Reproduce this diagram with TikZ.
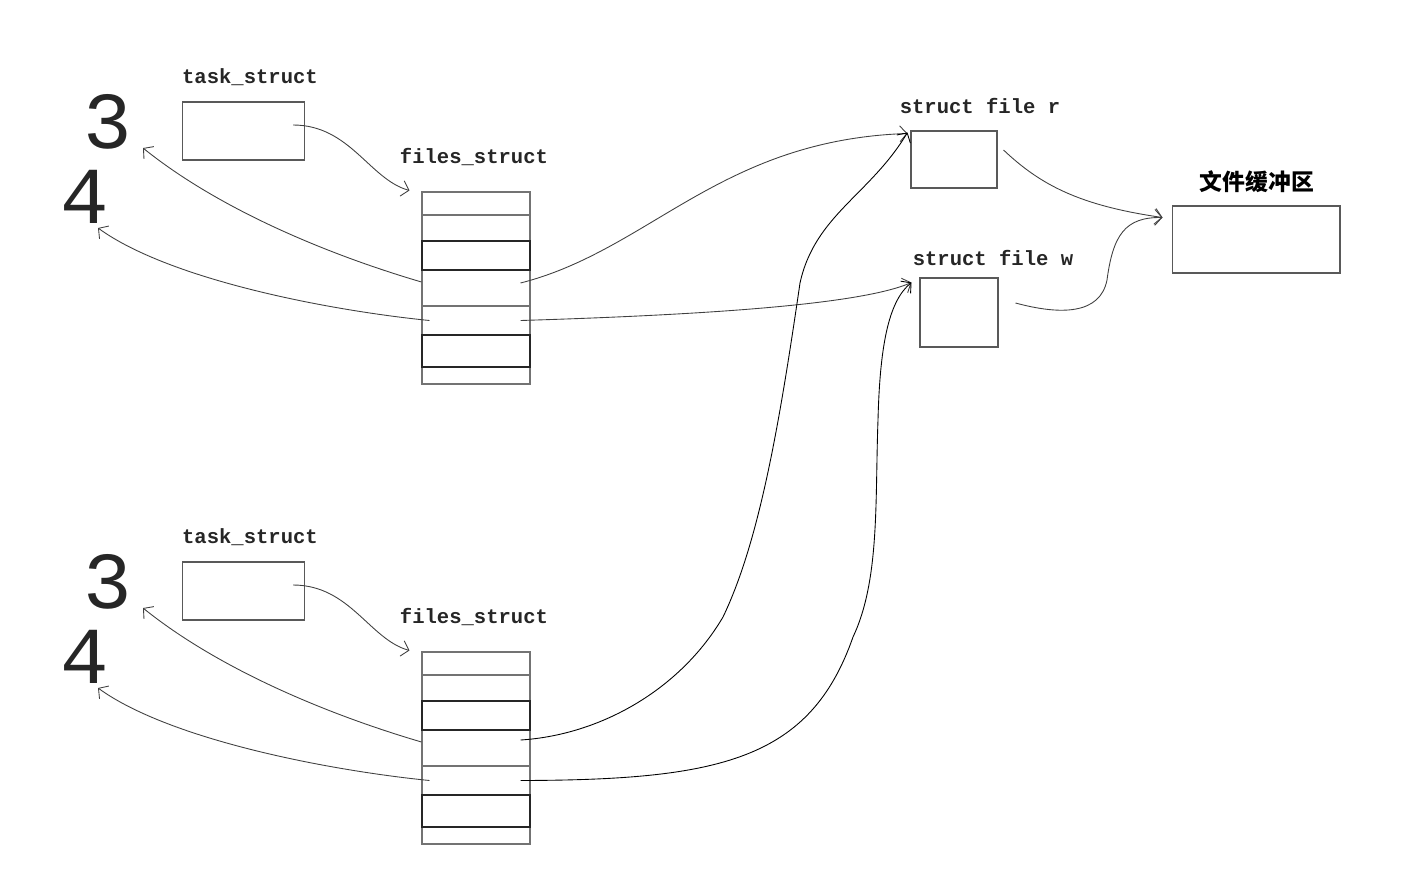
\documentclass[tikz,border=0pt]{standalone}
\usepackage{fontspec}
\setmonofont{Liberation Mono}
\setsansfont{Liberation Sans}
\newfontfamily\cjkfont{Noto Sans CJK SC}
\usetikzlibrary{calc, arrows.meta}

\begin{document}
\begin{tikzpicture}[x=0.02cm, y=-0.02cm,
    box/.style={draw=black!65, line width=0.6pt, inner sep=0pt},
    slot/.style={draw=black!55, line width=0.6pt, minimum width=2.16cm, inner sep=0pt},
    hot/.style={slot, draw=black!85, line width=0.7pt},
    title/.style={font=\ttfamily\bfseries\fontsize{11.7}{13}\selectfont, text=black!85},
    digit/.style={font=\ttfamily\fontsize{46}{46}\selectfont, text=black!85},
    link/.style={-{Straight Barb[length=4pt, width=9pt]}, black!75, line width=0.5pt},
  ]
    \useasboundingbox (0,0) rectangle (1417,883);

    \foreach \s/\dy in {a/0, b/460} {
      \node[box, minimum width=2.44cm, minimum height=1.16cm] (tk\s) at (243.5,131+\dy) {};
      \node[title] (tkl\s) at (250,77+\dy) {task\_struct};
      \node[title] (fsl\s) at (474,157+\dy) {files\_struct};

      \node[slot, minimum height=0.46cm] (fs\s1) at (476,203.5+\dy) {};
      \node[slot, minimum height=0.52cm] (fs\s2) at (476,228+\dy) {};
      \node[slot, minimum height=0.72cm] (fs\s4) at (476,288+\dy) {};
      \node[slot, minimum height=0.58cm] (fs\s5) at (476,320.5+\dy) {};
      \node[slot, minimum height=0.34cm] (fs\s7) at (476,375.5+\dy) {};
      \node[hot, minimum height=0.58cm] (fs\s3) at (476,255.5+\dy) {};
      \node[hot, minimum height=0.64cm] (fs\s6) at (476,351+\dy) {};

      \node[digit] (n3\s) at (108,122+\dy) {3};
      \node[digit] (n4\s) at (85,197+\dy) {4};

      \draw[link] ($(tk\s.east)+(-12,-6)$) .. controls +(57,0) and +(-40,-11) .. ($(fs\s1.north west)+(-12,-1)$);
      \draw[link] ($(fs\s4.west)+(0,-6)$) .. controls +(-92,-27) and +(77,62) .. ($(n3\s)+(35,26)$);
      \draw[link] ($(fs\s5.west)+(8,0)$) .. controls +(-100,-10) and +(72,52) .. ($(n4\s)+(13,31)$);
    }

    \node[box, minimum width=1.72cm, minimum height=1.14cm] (filer) at (954,159.5) {};
    \node[title] (filerl) at (980,106) {struct file r};
    \node[box, minimum width=1.56cm, minimum height=1.38cm] (filew) at (959,312.5) {};
    \node[title] (filewl) at (993,258) {struct file w};
    \node[box, minimum width=3.36cm, minimum height=1.34cm] (buf) at (1256,239.5) {};
    \node[font=\cjkfont\bfseries\fontsize{13}{15}\selectfont] (bufl) at (1257,182) {文件缓冲区};

    \draw[link] ($(fsa4.east)+(-10,-5)$) .. controls (650,250) and (720,140) .. ($(filer.north west)+(-3,3)$);
    \draw[link] ($(fsa5.east)+(-10,0)$) .. controls (700,315) and (860,305) .. ($(filew.north west)+(-8,5)$);
    \draw[link, black] ($(fsb4.east)+(-10,-8)$) .. controls (600,735) and (680,690) .. (723,617)
      .. controls (760,540) and (780,420) .. (800,283)
      .. controls (815,215) and (870,195) .. ($(filer.north west)+(-3,2)$);
    \draw[link, black] ($(fsb5.east)+(-10,0)$) .. controls (720,780) and (810,760) .. (853,637)
      .. controls (880,580) and (875,500) .. (878,420)
      .. controls (880,340) and (890,300) .. ($(filew.north west)+(-8,5)$);
    \draw[link] ($(filer.east)+(6,-9.5)$) .. controls +(37,35) and +(-83,-12) .. ($(buf.west)+(-9,-22)$);
    \draw[link] ($(filew.east)+(17,-9.5)$) .. controls (1060,315) and (1100,315) .. (1107,280)
      .. controls (1113,235) and (1125,217) .. ($(buf.west)+(-9,-22)$);
  \end{tikzpicture}
\end{document}
